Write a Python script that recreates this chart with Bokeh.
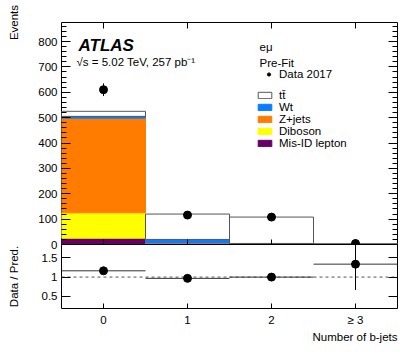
import numpy as np
from bokeh.plotting import figure
from bokeh.layouts import column
from bokeh.models import (Range1d, LinearAxis, FixedTicker, Label, Legend, LegendItem,
                          Span, ColumnDataSource, NumeralTickFormatter, Title)
from bokeh.embed import file_html
from bokeh.resources import INLINE

# ---------------- data ----------------
bins = [0, 1, 2, 3]
bin_labels = ["0", "1", "2", "≥ 3"]
data = [610, 116, 108, 4]
data_err = [25, 11, 10, 2]
ttbar = [20, 100, 104, 2.5]
wt = [7, 14, 3, 0.4]
zjets = [373, 4, 0.5, 0.0]
diboson = [100, 1, 0.3, 0.05]
misid = [25, 1, 0.3, 0.05]

main_ticks = [0, 100, 200, 300, 400, 500, 600, 700, 800]
main_minor = [20, 40, 60, 80, 120, 140, 160, 180, 220, 240, 260, 280, 320, 340, 360,
              380, 420, 440, 460, 480, 520, 540, 560, 580, 620, 640, 660, 680, 720,
              740, 760, 780, 820, 840, 860]
ratio_ticks = [0.5, 1, 1.5]

# ---------------- style ----------------
FONT = "Liberation Sans"
FS = "11.5px"
Y_TOP = 875
R_LO, R_HI = 0.19, 1.84

xr = Range1d(-0.5, 3.5)


def style_axis(ax, labels=True, tin=9, minor_in=0, standoff=4):
    ax.axis_line_color = None
    ax.major_tick_out = 0
    ax.minor_tick_out = 0
    ax.major_tick_in = tin
    ax.minor_tick_in = minor_in
    ax.major_tick_line_color = "black"
    ax.minor_tick_line_color = "black"
    ax.major_label_text_font = FONT
    ax.major_label_text_font_size = FS if labels else "0px"
    ax.major_label_text_color = "black"
    ax.major_label_standoff = standoff if labels else 0
    ax.axis_label_text_font = FONT
    ax.axis_label_text_font_size = FS
    ax.axis_label_text_font_style = "normal"
    ax.axis_label_text_color = "black"


def title(text, **kw):
    return Title(text=text, text_font=FONT, text_font_size=FS,
                 text_font_style="normal", text_color="black", **kw)


# ================= main panel =================
p1 = figure(width=406, height=252, x_range=xr, y_range=Range1d(0, Y_TOP),
            output_backend="svg", toolbar_location=None,
            x_axis_type=None, y_axis_type=None,
            min_border_left=61, min_border_right=9, min_border_top=22,
            min_border_bottom=8)
p1.outline_line_color = "black"
p1.background_fill_color = "white"
p1.border_fill_alpha = 0

yl = LinearAxis(ticker=FixedTicker(ticks=main_ticks, minor_ticks=main_minor),
                formatter=NumeralTickFormatter(format="0"), axis_label="Events")
style_axis(yl, minor_in=5)
yl.axis_label_standoff = 15
try:
    yl.axis_label_align = "end"
except Exception:
    pass
p1.add_layout(yl, "left")

yr = LinearAxis(ticker=FixedTicker(ticks=main_ticks, minor_ticks=main_minor))
style_axis(yr, labels=False, minor_in=5)
p1.add_layout(yr, "right")

xt = LinearAxis(ticker=FixedTicker(ticks=bins))
style_axis(xt, labels=False, tin=6)
p1.add_layout(xt, "above")

xm = LinearAxis(ticker=FixedTicker(ticks=bins))
style_axis(xm, labels=False, tin=5)
p1.add_layout(xm, "below")

src = ColumnDataSource(dict(x=bins, misid=misid, diboson=diboson, zjets=zjets,
                            wt=wt, ttbar=ttbar))
stackers = ["misid", "diboson", "zjets", "wt", "ttbar"]
fills = ["#660066", "#FFFF00", "#FF7C00", "#0B7CFF", "#FFFFFF"]
lines = ["#660066", "#FFFF00", "#FF7C00", "#0B7CFF", "#555555"]
rends = p1.vbar_stack(stackers, x="x", width=1, fill_color=fills, line_color=lines,
                      line_width=1, source=src)

x = np.array(bins, dtype=float)
d = np.array(data, dtype=float)
de = np.array(data_err, dtype=float)
total = (np.array(ttbar) + np.array(wt) + np.array(zjets)
         + np.array(diboson) + np.array(misid))

p1.segment(x0=x, x1=x, y0=d - de, y1=d + de, line_color="black", line_width=1)
data_r = p1.scatter(x, d, size=8, color="black")

leg_kw = dict(background_fill_alpha=0, border_line_color=None, padding=0, margin=0,
              spacing=0, glyph_width=17, glyph_height=8, label_height=12,
              label_text_font=FONT, label_text_font_size=FS, label_text_color="black")
leg_data = Legend(items=[LegendItem(label="Data 2017", renderers=[data_r])],
                  location=(199, 164.5), label_standoff=2, **leg_kw)
leg_mc = Legend(items=[LegendItem(label="tt\u0304", renderers=[rends[4]]),
                       LegendItem(label="Wt", renderers=[rends[3]]),
                       LegendItem(label="Z+jets", renderers=[rends[2]]),
                       LegendItem(label="Diboson", renderers=[rends[1]]),
                       LegendItem(label="Mis-ID lepton", renderers=[rends[0]])],
                location=(195, 95), label_standoff=6, **leg_kw)
p1.add_layout(leg_data)
p1.add_layout(leg_mc)


def lab(text, **kw):
    base = dict(text_font=FONT, text_font_size=FS, text_color="black",
                text_baseline="alphabetic", x=-0.5, y=Y_TOP)
    base.update(kw)
    p1.add_layout(Label(text=text, **base))


lab("ATLAS", x_offset=17, y_offset=-23, text_font_size="17px",
    text_font_style="bold italic")
lab("√s = 5.02 TeV, 257 pb⁻¹", x_offset=15, y_offset=-39)
lab("eμ", x_offset=198, y_offset=-24)
lab("Pre-Fit", x_offset=198, y_offset=-40)

# ================= ratio panel =================
p2 = figure(width=406, height=101, x_range=xr, y_range=Range1d(R_LO, R_HI),
            output_backend="svg", toolbar_location=None,
            x_axis_type=None, y_axis_type=None,
            min_border_left=61, min_border_right=9, min_border_top=0,
            min_border_bottom=37, margin=(-8, 0, 0, 0))
p2.outline_line_color = "black"
p2.background_fill_color = "white"
p2.border_fill_alpha = 0

rl = LinearAxis(ticker=FixedTicker(ticks=ratio_ticks),
                formatter=NumeralTickFormatter(format="0.[0]"),
                axis_label="Data / Pred.")
style_axis(rl)
rl.axis_label_standoff = 19
p2.add_layout(rl, "left")

rr = LinearAxis(ticker=FixedTicker(ticks=ratio_ticks))
style_axis(rr, labels=False)
p2.add_layout(rr, "right")

xb = LinearAxis(ticker=FixedTicker(ticks=bins),
                major_label_overrides={b: l for b, l in zip(bins, bin_labels)})
style_axis(xb, tin=5, standoff=5)
p2.add_layout(xb, "below")
p2.add_layout(title("Number of b-jets", align="right", standoff=0), "below")

ratio = d / total
ratio_err = de / total
p2.add_layout(Span(location=1, dimension="width", line_dash="3 3",
                   line_color="#555555", line_width=1, level="underlay"))
p2.segment(x0=x - 0.5, x1=x + 0.5, y0=ratio, y1=ratio, line_color="#333333",
           line_width=1)
p2.segment(x0=x, x1=x, y0=ratio - ratio_err, y1=ratio + ratio_err,
           line_color="black", line_width=1)
p2.scatter(x, ratio, size=8, color="black")

layout = column(p1, p2, spacing=0)
open("out.html", "w").write(file_html(layout, INLINE))
